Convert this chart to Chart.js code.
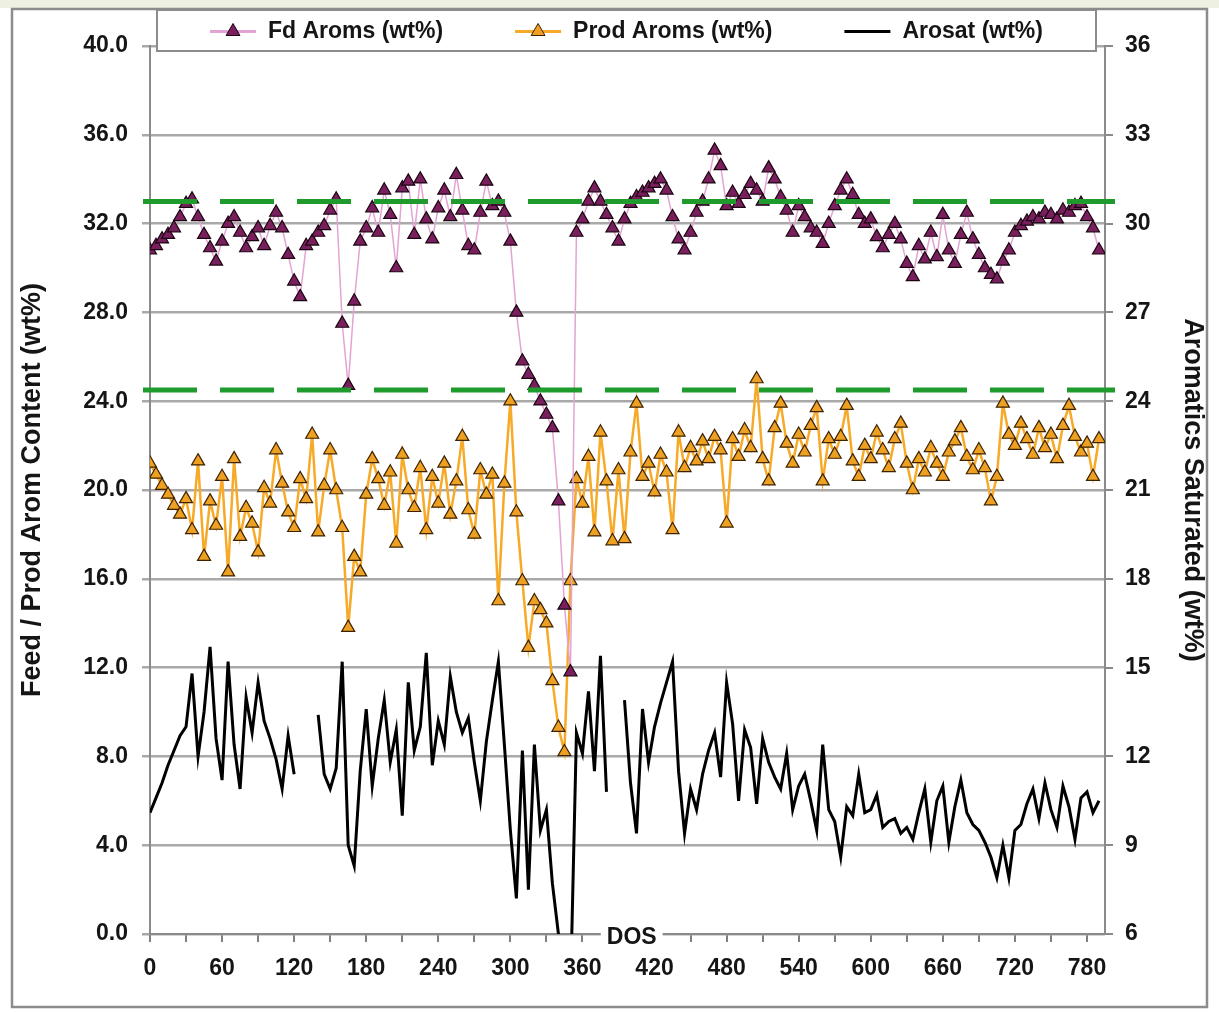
<!DOCTYPE html>
<html>
<head>
<meta charset="utf-8">
<script src="https://cdn.jsdelivr.net/npm/chart.js@4.4.1/dist/chart.umd.min.js"></script>
<style>
html,body{margin:0;padding:0;background:#fff;}
canvas{display:block;}
</style>
</head>
<body>
<canvas id="c" width="1219" height="1013"></canvas>
<script>
// ---- data (days on stream) ----
const days = [
  0,5,10,15,20,25,30,35,40,45, 50,55,60,65,70,75,80,85,90,95,
  100,105,110,115,120,125,130,135,140,145, 150,155,160,165,170,175,180,185,190,195,
  200,205,210,215,220,225,230,235,240,245, 250,255,260,265,270,275,280,285,290,295,
  300,305,310,315,320,325,330,335,340,345, 350,355,360,365,370,375,380,385,390,395,
  400,405,410,415,420,425,430,435,440,445, 450,455,460,465,470,475,480,485,490,495,
  500,505,510,515,520,525,530,535,540,545, 550,555,560,565,570,575,580,585,590,595,
  600,605,610,615,620,625,630,635,640,645, 650,655,660,665,670,675,680,685,690,695,
  700,705,710,715,720,725,730,735,740,745, 750,755,760,765,770,775,780,785,790
];

// Feed aromatics, wt% (left axis)
const fdAroms = [
  30.8,31.0,31.3,31.5,31.8,32.3,32.9,33.1,32.3,31.5,
  30.9,30.3,31.2,32.0,32.3,31.6,30.9,31.4,31.8,31.0,
  31.9,32.5,31.8,30.6,29.4,28.7,31.0,31.2,31.6,31.9,
  32.6,33.1,27.5,24.7,28.5,31.2,31.8,32.7,31.6,33.5,
  32.4,30.0,33.6,33.9,31.5,34.0,32.2,31.3,32.7,33.5,
  32.3,34.2,32.6,31.0,30.8,32.5,33.9,32.8,33.0,32.5,
  31.2,28.0,25.8,25.2,24.7,24.0,23.4,22.8,19.5,14.8,
  11.8,31.6,32.2,33.0,33.6,33.0,32.4,31.8,31.2,32.2,
  32.9,33.2,33.4,33.6,33.8,34.0,33.5,32.3,31.3,30.8,
  31.6,32.5,33.0,34.0,35.3,34.6,32.8,33.4,32.9,33.3,
  33.8,33.5,33.0,34.5,34.0,33.2,32.6,31.6,32.8,32.3,
  31.8,31.6,31.1,32.0,32.8,33.5,34.0,33.3,32.4,32.0,
  32.2,31.4,30.9,31.5,32.0,31.3,30.2,29.6,31.0,30.4,
  31.6,30.5,32.4,30.8,30.2,31.5,32.5,31.3,30.6,30.0,
  29.7,29.5,30.3,30.8,31.6,31.9,32.1,32.3,32.2,32.5,
  32.4,32.2,32.6,32.5,32.8,32.9,32.3,31.8,30.8
];

// Product aromatics, wt% (left axis)
const prodAroms = [
  21.2,20.7,20.2,19.8,19.3,18.9,19.6,18.2,21.3,17.0,
  19.5,18.4,20.6,16.3,21.4,17.9,19.2,18.5,17.2,20.1,
  19.4,21.8,20.3,19.0,18.3,20.5,19.6,22.5,18.1,20.2,
  21.8,20.0,18.3,13.8,17.0,16.3,19.8,21.4,20.5,19.3,
  20.8,17.6,21.6,20.0,19.2,21.0,18.2,20.6,19.4,21.2,
  18.9,20.4,22.4,19.1,18.0,20.9,19.8,20.7,15.0,20.3,
  24.0,19.0,15.9,12.9,15.0,14.6,14.0,11.4,9.3,8.2,
  15.9,20.5,19.4,21.5,18.1,22.6,20.4,17.7,20.9,17.8,
  21.7,23.9,20.6,21.2,19.9,21.6,20.8,18.2,22.6,21.0,
  21.9,21.3,22.2,21.4,22.4,21.8,18.5,22.3,21.5,22.7,
  21.9,25.0,21.4,20.4,22.8,23.9,22.1,21.2,22.5,21.7,
  22.9,23.7,20.4,22.3,21.6,22.4,23.8,21.3,20.6,22.0,
  21.4,22.6,21.8,21.0,22.3,23.0,21.2,20.0,21.4,20.8,
  21.9,21.2,20.6,21.7,22.2,22.8,21.5,20.9,21.8,21.0,
  19.5,20.6,23.9,22.5,22.0,23.0,22.3,21.6,22.8,21.9,
  22.5,21.4,22.9,23.8,22.4,21.7,22.1,20.6,22.3
];

// Aromatics saturated, wt% (right axis); null = no data
const arosat = [
  10.1,10.6,11.1,11.7,12.2,12.7,13.0,14.8,12.0,13.5,
  15.7,12.6,11.2,15.2,12.4,10.9,14.0,12.8,14.5,13.2,
  12.6,11.9,10.9,12.7,11.4,null,null,null,13.4,11.4,
  10.9,11.6,15.2,9.0,8.3,11.5,13.6,11.0,12.6,13.9,
  11.8,12.9,10.0,14.5,12.2,13.0,15.5,11.7,13.2,12.4,
  14.7,13.5,12.8,13.3,11.8,10.5,12.5,13.9,15.2,12.4,
  9.5,7.2,12.2,7.5,12.4,9.5,10.2,7.7,6.0,4.0,
  4.0,12.8,12.1,14.2,11.5,15.4,10.8,null,null,13.9,
  11.1,9.4,13.6,11.8,13.0,13.8,14.5,15.2,11.5,9.4,
  10.9,10.2,11.4,12.2,12.8,11.3,14.5,13.1,10.5,12.9,
  12.3,10.4,12.6,11.8,11.3,10.9,12.1,10.2,11.0,11.4,
  10.5,9.5,12.4,10.2,9.8,8.6,10.3,10.0,11.4,10.1,
  10.2,10.7,9.6,9.8,9.9,9.4,9.6,9.2,10.1,10.9,
  9.1,10.5,11.0,9.1,10.3,11.2,10.1,9.7,9.5,9.1,
  8.6,7.9,9.0,7.9,9.5,9.7,10.4,10.9,9.9,11.1,
  10.2,9.6,11.0,10.3,9.2,10.6,10.8,10.1,10.5
];

// Specification limits on the feed/product axis (green dashed lines)
const limitLines = [33.0, 24.5];
const dosLabel = 'DOS';
const dosAtDay = 401;

const seriesLabels = ['Fd Aroms (wt%)', 'Prod Aroms (wt%)', 'Arosat (wt%)'];
const leftTitle = 'Feed / Prod Arom Content (wt%)';
const rightTitle = 'Aromatics Saturated (wt%)';

const FONT = '"Liberation Sans", Arial, Helvetica, sans-serif';
const toXY = (vals) => days.map((d, i) => ({x: d, y: vals[i]}));

// ---- plugins ----
const backgroundPlugin = {
  id: 'bgFrame',
  beforeDraw(chart) {
    const ctx = chart.ctx;
    ctx.save();
    ctx.fillStyle = '#ffffff';
    ctx.fillRect(0, 0, chart.width, chart.height);
    ctx.fillStyle = '#eef1e1';
    ctx.fillRect(0, 0, chart.width, 8);
    ctx.strokeStyle = '#8c8c8c';
    ctx.lineWidth = 2.5;
    ctx.strokeRect(12, 9, chart.width - 24, chart.height - 15);
    ctx.restore();
  }
};

const limitPlugin = {
  id: 'limits',
  afterDatasetsDraw(chart) {
    const {ctx, chartArea, scales} = chart;
    ctx.save();
    ctx.strokeStyle = '#1f9a2c';
    ctx.lineWidth = 5;
    ctx.setLineDash([54, 23]);
    limitLines.forEach(v => {
      const y = scales.y.getPixelForValue(v);
      ctx.beginPath();
      ctx.moveTo(chartArea.left - 7, y);
      ctx.lineTo(chartArea.right + 10, y);
      ctx.stroke();
    });
    ctx.restore();
  }
};

const annotationPlugin = {
  id: 'dosLabel',
  afterDraw(chart) {
    const {ctx, chartArea, scales} = chart;
    const x = scales.x.getPixelForValue(dosAtDay);
    const y = chartArea.bottom + 4;
    ctx.save();
    ctx.font = 'bold 23px ' + FONT;
    const w = ctx.measureText(dosLabel).width;
    ctx.fillStyle = '#ffffff';
    ctx.fillRect(x - w / 2 - 6, y - 14, w + 12, 28);
    ctx.fillStyle = '#151515';
    ctx.textAlign = 'center';
    ctx.textBaseline = 'middle';
    ctx.fillText(dosLabel, x, y);
    ctx.restore();
  }
};

const legendPlugin = {
  id: 'boxLegend',
  afterDraw(chart) {
    const ctx = chart.ctx;
    const box = {x: 157, y: 10, w: 939, h: 41};
    ctx.save();
    ctx.fillStyle = '#ffffff';
    ctx.fillRect(box.x, box.y, box.w, box.h);
    ctx.strokeStyle = '#8c8c8c';
    ctx.lineWidth = 2;
    ctx.strokeRect(box.x, box.y, box.w, box.h);
    ctx.font = 'bold 23px ' + FONT;
    const items = chart.data.datasets.slice(0, 3);
    const lineLen = 46, gapText = 12, itemGap = 72;
    const widths = items.map(d => ctx.measureText(d.label).width);
    let total = widths.reduce((a, b) => a + b, 0) + items.length * (lineLen + gapText) + itemGap * (items.length - 1);
    let x = box.x + box.w / 2 - total / 2;
    const cy = box.y + box.h / 2 + 1;
    items.forEach((d, i) => {
      ctx.strokeStyle = d.borderColor;
      ctx.lineWidth = 3;
      ctx.setLineDash([]);
      ctx.beginPath();
      ctx.moveTo(x, cy);
      ctx.lineTo(x + lineLen, cy);
      ctx.stroke();
      if (d.pointRadius > 0) {
        ctx.fillStyle = d.pointBackgroundColor;
        ctx.strokeStyle = d.pointBorderColor;
        ctx.lineWidth = 1;
        Chart.helpers.drawPoint(ctx, {pointStyle: 'triangle', radius: 8, rotation: 0, borderWidth: 1}, x + lineLen / 2, cy);
      }
      ctx.fillStyle = '#151515';
      ctx.textAlign = 'left';
      ctx.textBaseline = 'middle';
      ctx.fillText(d.label, x + lineLen + gapText, cy);
      x += lineLen + gapText + widths[i] + itemGap;
    });
    ctx.restore();
  }
};

// ---- chart ----
const tickFont = {family: FONT, size: 23, weight: 'bold'};
const titleFont = {family: FONT, size: 27, weight: 'bold'};

new Chart(document.getElementById('c'), {
  type: 'line',
  data: {
    datasets: [
      {
        label: seriesLabels[0],
        data: toXY(fdAroms),
        yAxisID: 'y',
        borderColor: '#e3a4d3',
        borderWidth: 1.5,
        pointStyle: 'triangle',
        pointRadius: 7.5,
        pointBackgroundColor: '#7a1f5e',
        pointBorderColor: '#1a0410',
        pointBorderWidth: 1.2,
        tension: 0
      },
      {
        label: seriesLabels[1],
        data: toXY(prodAroms),
        yAxisID: 'y',
        borderColor: '#f7a928',
        borderWidth: 2.5,
        pointStyle: 'triangle',
        pointRadius: 7.5,
        pointBackgroundColor: '#eda022',
        pointBorderColor: '#3d2200',
        pointBorderWidth: 1.2,
        tension: 0
      },
      {
        label: seriesLabels[2],
        data: toXY(arosat),
        yAxisID: 'y2',
        borderColor: '#000000',
        borderWidth: 3,
        pointRadius: 0,
        spanGaps: false,
        tension: 0
      }
    ]
  },
  options: {
    responsive: false,
    devicePixelRatio: 1,
    animation: false,
    layout: {padding: {top: 46, left: 0, right: 0, bottom: 0}},
    plugins: {
      legend: {display: false},
      tooltip: {enabled: false},
      title: {display: false}
    },
    scales: {
      x: {
        type: 'linear',
        min: 0,
        max: 795,
        afterFit(s) { s.height = 79; },
        ticks: {
          stepSize: 30,
          includeBounds: false,
          autoSkip: false,
          maxRotation: 0,
          padding: 13,
          font: tickFont,
          color: '#151515',
          callback: v => (v % 60 === 0 ? String(v) : '')
        },
        grid: {drawOnChartArea: false, drawTicks: true, tickLength: 8, color: '#808080', lineWidth: 2},
        border: {color: '#8a8a8a', width: 2}
      },
      y: {
        position: 'left',
        min: 0,
        max: 40,
        afterFit(s) { s.width = 150; },
        ticks: {
          stepSize: 4,
          padding: 14,
          font: tickFont,
          color: '#151515',
          callback: v => v.toFixed(1)
        },
        grid: {color: '#a9a9a9', lineWidth: 2.5, tickLength: 8},
        border: {color: '#8a8a8a', width: 2},
        title: {display: true, text: leftTitle, font: titleFont, color: '#151515', padding: {top: 16, bottom: 0}}
      },
      y2: {
        position: 'right',
        min: 6,
        max: 36,
        afterFit(s) { s.width = 114; },
        ticks: {
          stepSize: 3,
          padding: 12,
          font: tickFont,
          color: '#151515'
        },
        grid: {drawOnChartArea: false, tickLength: 8, color: '#8a8a8a', lineWidth: 2},
        border: {color: '#8a8a8a', width: 2},
        title: {display: true, text: rightTitle, font: titleFont, color: '#151515', padding: {top: 10, bottom: 0}}
      }
    }
  },
  plugins: [backgroundPlugin, limitPlugin, annotationPlugin, legendPlugin]
});
</script>
</body>
</html>
